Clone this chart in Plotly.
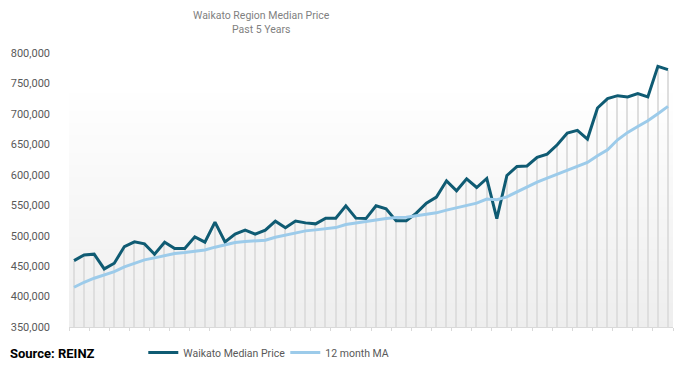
import plotly.graph_objects as go

months = [f"M{i+1}" for i in range(60)]

median_price = [
    459000, 468400, 469600, 445400, 454800, 482100, 489800, 486500, 469600, 489300,
    478800, 478800, 498000, 489300, 522200, 489800, 502500, 509000, 502500, 509000,
    523800, 513000, 524000, 521000, 519400, 528800, 528800, 549000, 528800, 528100,
    549000, 544100, 524300, 524300, 537000, 553500, 563300, 590100, 573700, 593400,
    579100, 594000, 528000, 598900, 613700, 614500, 628500, 634000, 649300, 668600,
    672900, 658700, 709700, 725000, 729900, 727800, 733200, 727800, 778100, 772700,
]

ma_12 = [
    415300, 423500, 430100, 436000, 441000, 448700, 454800, 460200, 463500, 466800,
    470600, 472200, 474500, 476600, 481100, 484900, 488700, 490300, 491400, 492600,
    497500, 500800, 504500, 507900, 509500, 511700, 513300, 518300, 521000, 523200,
    525500, 528100, 529800, 530400, 532600, 534700, 537500, 541900, 545700, 549000,
    553500, 560200, 558900, 563800, 571800, 580000, 588000, 594500, 601100, 607100,
    614800, 620200, 631200, 641100, 657500, 669600, 679400, 688800, 700300, 712300,
]

y_ticks = [350000, 400000, 450000, 500000, 550000, 600000, 650000, 700000, 750000, 800000]

fig = go.Figure()

# drop lines (thin bars) under the median line
fig.add_trace(go.Bar(
    x=months, y=median_price, width=0.15,
    marker=dict(color="#dedede", line=dict(width=0)),
    showlegend=False, hoverinfo="skip",
))
fig.add_trace(go.Scatter(
    x=months, y=median_price, mode="lines", name="Waikato Median Price",
    line=dict(color="#0f5b73", width=3),
))
fig.add_trace(go.Scatter(
    x=months, y=ma_12, mode="lines", name="12 month MA",
    line=dict(color="#9ccbea", width=3),
))

# gradient background (white at top -> light grey at bottom)
shapes = []
n = 40
top = 0.876
for k in range(n):
    y0 = top * k / n
    y1 = top * (k + 1) / n
    t = (k + 0.5) / n  # 0 at bottom, 1 at top
    g = int(round(238 + (255 - 238) * t))
    shapes.append(dict(type="rect", xref="paper", yref="paper",
                       x0=0, x1=1, y0=y0, y1=y1,
                       fillcolor=f"rgb({g},{g},{g})", line=dict(width=0),
                       layer="below"))

fig.update_layout(
    width=679, height=362,
    margin=dict(l=61, r=14, t=45, b=43, autoexpand=False),
    paper_bgcolor="white", plot_bgcolor="white",
    shapes=shapes,
    bargap=0,
    font=dict(family="Roboto", color="#595959", size=12),
    xaxis=dict(
        type="category", range=[-0.5, 59.5],
        showticklabels=False, showgrid=False, zeroline=False,
        showline=True, linecolor="#d9d9d9", linewidth=1,
        ticks="outside", tickson="boundaries", ticklen=3, tickcolor="#d9d9d9",
        fixedrange=True,
    ),
    yaxis=dict(
        range=[350000, 800000], tickvals=y_ticks, tickformat=",",
        showgrid=False, zeroline=False, showline=False,
        tickfont=dict(size=11, color="#595959"), ticks="", ticklabelstandoff=18,
    ),
    legend=dict(
        orientation="h", x=0.123, xanchor="left", y=-0.04, yanchor="top",
        font=dict(size=10.5, color="#595959"),
        entrywidth=97, entrywidthmode="pixels",
        bgcolor="rgba(0,0,0,0)",
    ),
    annotations=[
        dict(text="Waikato Region Median Price<br>Past 5 Years", xref="paper", yref="paper",
             x=0.318, y=1.0, yshift=46, xanchor="center", yanchor="top", showarrow=False,
             font=dict(size=10.5, color="#7f7f7f")),
        dict(text="<b>Source: REINZ</b>", xref="paper", yref="paper",
             x=-0.101, y=-0.062, xanchor="left", yanchor="top", showarrow=False,
             font=dict(size=13, color="#000000")),
    ],
)

fig.write_html("out.html")
